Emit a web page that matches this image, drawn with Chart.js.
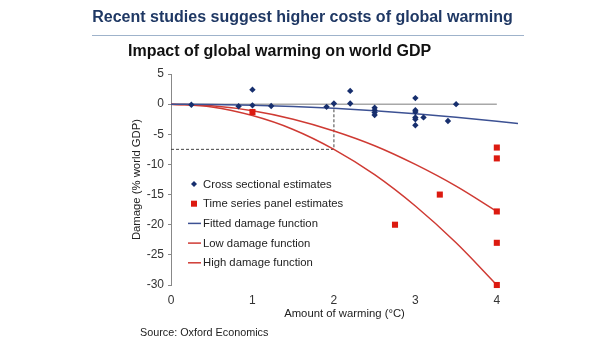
<!DOCTYPE html>
<html>
<head>
<meta charset="utf-8">
<script src="https://cdn.jsdelivr.net/npm/chart.js@4/dist/chart.umd.min.js"></script>
<style>
  body { margin: 0; background: #fff; }
  #wrap { position: relative; width: 605px; height: 341px; font-family: "Liberation Sans", Arial, sans-serif; }
  #chart { position: absolute; left: 0; top: 0; }
  .title { position: absolute; left: 0; width: 605px; text-align: center; top: 8px; font-size: 16px; font-weight: bold; color: #1f3864; }
  .rule { position: absolute; left: 92px; width: 432px; top: 35px; border-top: 1px solid #9fb3cb; }
  .sub { position: absolute; left: 128px; top: 42px; font-size: 16px; font-weight: bold; color: #111; }
  .src { position: absolute; left: 140px; top: 326px; font-size: 10.8px; color: #222; }
</style>
</head>
<body>
<div id="wrap">
  <canvas id="chart" width="605" height="341"></canvas>
  <div class="title">Recent studies suggest higher costs of global warming</div>
  <div class="rule"></div>
  <div class="sub">Impact of global warming on world GDP</div>
  <div class="src">Source: Oxford Economics</div>
</div>
<script>
// Cross sectional estimates
const crossX = [0.25, 0.83, 1, 1, 1.23, 1.91, 2, 2.2, 2.2, 2.5, 2.5, 2.5, 2.5, 3, 3, 3, 3, 3, 3, 3.1, 3.4, 3.5];
const crossY = [-0.1, -0.35, 2.4, -0.2, -0.3, -0.45, 0.1, 2.2, 0.1, -0.6, -1.0, -1.4, -1.8, 1.0, -1.0, -1.3, -2.2, -2.5, -3.5, -2.2, -2.8, 0];

// Time series panel estimates
const panelX = [1, 2.75, 3.3, 4, 4, 4, 4, 4];
const panelY = [-1.3, -20, -15, -7.2, -9, -17.8, -23, -30];

// damage functions
const curveX = [0, 0.5, 1, 1.5, 2, 2.5, 3, 3.5, 4];
const lowY = [0, -0.28, -1.1, -2.5, -4.45, -6.9, -10.0, -13.6, -17.8];
const highY = [0, -0.47, -1.9, -4.2, -7.5, -11.7, -16.9, -23.0, -30.0];
const fitX = [0, 0.5, 1, 1.5, 2, 2.5, 3, 3.5, 4, 4.26];
const fitY = [0, -0.04, -0.18, -0.4, -0.7, -1.1, -1.58, -2.16, -2.82, -3.2];

// reference guides
const zeroX = [0, 4];
const zeroY = [0, 0];
const guideX = [0, 2, 2];
const guideY = [-7.5, -7.5, 0];

const xTicks = [0, 1, 2, 3, 4];

const pts = (xs, ys) => xs.map((x, i) => ({ x: x, y: ys[i] }));
const FONT = '"Liberation Sans", Arial, sans-serif';

const legendItems = [
    { label: 'Cross sectional estimates', ds: 0, kind: 'diamond' },
    { label: 'Time series panel estimates', ds: 1, kind: 'square' },
    { label: 'Fitted damage function', ds: 2, kind: 'line' },
    { label: 'Low damage function', ds: 3, kind: 'line' },
    { label: 'High damage function', ds: 4, kind: 'line' }
];

const insideLegend = {
    id: 'insideLegend',
    afterDraw(chart) {
        const ctx = chart.ctx;
        ctx.save();
        ctx.font = '11.3px ' + FONT;
        ctx.textBaseline = 'middle';
        legendItems.forEach((item, i) => {
            const ds = chart.data.datasets[item.ds];
            const y = 184 + i * 19.7;
            if (item.kind === 'line') {
                ctx.strokeStyle = ds.borderColor;
                ctx.lineWidth = 1.5;
                ctx.beginPath();
                ctx.moveTo(188, y);
                ctx.lineTo(201, y);
                ctx.stroke();
            } else if (item.kind === 'diamond') {
                ctx.fillStyle = ds.backgroundColor;
                ctx.beginPath();
                ctx.moveTo(194, y - 3);
                ctx.lineTo(197, y);
                ctx.lineTo(194, y + 3);
                ctx.lineTo(191, y);
                ctx.closePath();
                ctx.fill();
            } else {
                ctx.fillStyle = ds.backgroundColor;
                ctx.fillRect(191, y - 3, 6, 6);
            }
            ctx.fillStyle = '#222';
            ctx.fillText(item.label, 203, y + 0.5);
        });
        ctx.restore();
    }
};

new Chart(document.getElementById('chart').getContext('2d'), {
    type: 'scatter',
    data: {
        datasets: [
            {
                label: 'Cross sectional estimates',
                data: pts(crossX, crossY),
                pointStyle: 'rectRot',
                pointRadius: 3.2,
                backgroundColor: '#172f6e',
                borderColor: '#172f6e',
                borderWidth: 0,
                clip: false
            },
            {
                label: 'Time series panel estimates',
                data: pts(panelX, panelY),
                pointStyle: 'rect',
                pointRadius: 4.3,
                backgroundColor: '#dc1a10',
                borderColor: '#dc1a10',
                borderWidth: 0,
                clip: false
            },
            {
                label: 'Fitted damage function',
                data: pts(fitX, fitY),
                showLine: true,
                pointRadius: 0,
                borderColor: '#3c5193',
                borderWidth: 1.5,
                cubicInterpolationMode: 'monotone'
            },
            {
                label: 'Low damage function',
                data: pts(curveX, lowY),
                showLine: true,
                pointRadius: 0,
                borderColor: '#cf3a33',
                borderWidth: 1.5,
                cubicInterpolationMode: 'monotone'
            },
            {
                label: 'High damage function',
                data: pts(curveX, highY),
                showLine: true,
                pointRadius: 0,
                borderColor: '#cf3a33',
                borderWidth: 1.5,
                cubicInterpolationMode: 'monotone',
                clip: false
            },
            {
                label: 'zero',
                data: pts(zeroX, zeroY),
                showLine: true,
                pointRadius: 0,
                borderColor: '#a8a8a8',
                borderWidth: 1.5
            },
            {
                label: 'guide',
                data: pts(guideX, guideY),
                showLine: true,
                pointRadius: 0,
                borderColor: '#444',
                borderWidth: 1,
                borderDash: [3, 2]
            }
        ]
    },
    options: {
        responsive: false,
        animation: false,
        devicePixelRatio: 1,
        layout: { padding: { left: 100, right: 87, top: 74, bottom: 19 } },
        plugins: {
            legend: { display: false },
            tooltip: { enabled: false }
        },
        scales: {
            x: {
                type: 'linear',
                min: 0,
                max: 4.26,
                afterBuildTicks: s => { s.ticks = xTicks.map(v => ({ value: v })); },
                afterFit: s => { s.height = 37; },
                grid: { display: false },
                border: { display: false },
                ticks: { padding: 0, color: '#333', font: { size: 12, family: FONT } },
                title: { display: true, text: 'Amount of warming (°C)', color: '#222', font: { size: 11.3, family: FONT }, padding: { top: 0, bottom: 1 } }
            },
            y: {
                min: -30,
                max: 5,
                afterFit: s => { s.width = 71; },
                grid: { drawOnChartArea: false, drawTicks: true, tickLength: 3, color: '#888' },
                border: { color: '#888' },
                ticks: { stepSize: 5, padding: 4, color: '#333', font: { size: 12, family: FONT } },
                title: { display: true, text: 'Damage (% world GDP)', color: '#222', font: { size: 11.3, family: FONT }, padding: { top: 30, bottom: 0 } }
            }
        }
    },
    plugins: [insideLegend]
});
</script>
</body>
</html>
